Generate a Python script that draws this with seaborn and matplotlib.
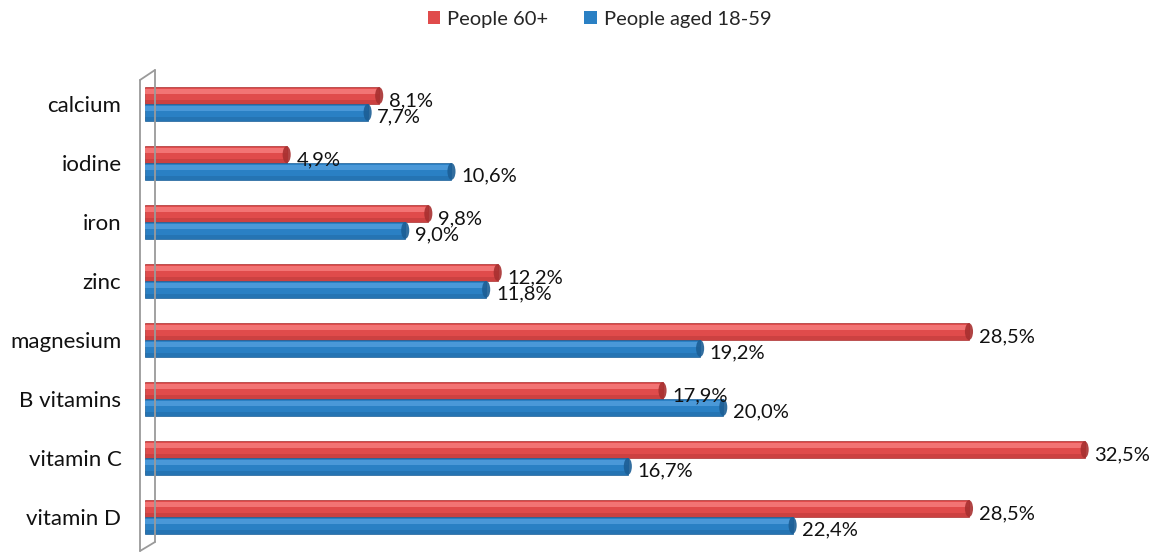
import matplotlib
matplotlib.use("Agg")
import matplotlib.pyplot as plt
import seaborn as sns
import pandas as pd
import numpy as np
from matplotlib.lines import Line2D
from matplotlib.patches import Patch, Ellipse

categories = ["calcium", "iodine", "iron", "zinc", "magnesium", "B vitamins", "vitamin C", "vitamin D"]
series_names = ["People 60+", "People aged 18-59"]
people_60 = [8.1, 4.9, 9.8, 12.2, 28.5, 17.9, 32.5, 28.5]
people_18_59 = [7.7, 10.6, 9.0, 11.8, 19.2, 20.0, 16.7, 22.4]
colors = ["#E04B4B", "#2A80C4"]
highlight = ["#F27474", "#4A98D8"]
edge = ["#A83030", "#1C5E95"]

df = pd.DataFrame({
    "category": categories * 2,
    "value": people_60 + people_18_59,
    "series": [series_names[0]] * len(categories) + [series_names[1]] * len(categories),
})

sns.set_theme(style="white")
plt.rcParams["font.family"] = ["Lato", "DejaVu Sans"]
FS = 14.5

fig = plt.figure(figsize=(11.53, 5.52), dpi=100)
ax = fig.add_axes([145 / 1153, 0.01, (1128 - 145) / 1153, 0.855])

sns.barplot(data=df, y="category", x="value", hue="series", orient="h",
            palette=colors, width=0.57, ax=ax, legend=False, saturation=1,
            edgecolor="none")

# cylinder-like shading: highlight stripe, darker lower band, end cap
for i, cont in enumerate(ax.containers):
    for bar in cont:
        bar.set_edgecolor(edge[i])
        bar.set_linewidth(0.5)
        x0, y0 = bar.get_x(), bar.get_y()
        w, h = bar.get_width(), bar.get_height()
        z = bar.get_zorder()
        ax.add_patch(plt.Rectangle((x0, y0 + h * 0.12), w, h * 0.28,
                                   facecolor=highlight[i], edgecolor="none", zorder=z + 0.1))
        ax.add_patch(plt.Rectangle((x0, y0 + h * 0.75), w, h * 0.25,
                                   facecolor=edge[i], alpha=0.35, edgecolor="none", zorder=z + 0.1))
        ax.add_patch(Ellipse((x0 + w, y0 + h / 2), 0.28, h, facecolor=edge[i],
                             edgecolor="none", alpha=0.9, zorder=z + 0.2))

# value labels
for i, cont in enumerate(ax.containers):
    labels = [f"{v:.1f}".replace(".", ",") + "%" for v in cont.datavalues]
    for bar, lab in zip(cont, labels):
        ax.annotate(lab, (bar.get_x() + bar.get_width(), bar.get_y() + bar.get_height() / 2),
                    xytext=(7, -3.5), textcoords="offset points", ha="left", va="center",
                    fontsize=FS, color="#111111", annotation_clip=False)

ax.set_xlim(0, 34)
ax.set_ylim(len(categories) - 0.5, -0.5)
ax.set_xlabel("")
ax.set_ylabel("")
ax.set_xticks([])
ax.tick_params(axis="y", length=0, pad=17, labelsize=16, labelcolor="#111111")
for s in ax.spines.values():
    s.set_visible(False)

# 3D wall outline
wall = "#9A9A9A"
X = lambda px: px / 1153
Y = lambda py: 1 - py / 552
fig.add_artist(Line2D([X(140), X(140)], [Y(80), Y(551)], color=wall, lw=1.3))
fig.add_artist(Line2D([X(140), X(155)], [Y(80), Y(70)], color=wall, lw=1.3))
fig.add_artist(Line2D([X(155), X(155)], [Y(70), Y(542)], color=wall, lw=1.3))
fig.add_artist(Line2D([X(155), X(140)], [Y(542), Y(551)], color=wall, lw=1.3))

handles = [Patch(facecolor=c, edgecolor="none") for c in colors]
fig.legend(handles, series_names, loc="center", bbox_to_anchor=(0.52, 1 - 19 / 552),
           ncol=2, frameon=False, fontsize=FS, handlelength=0.6, handleheight=0.6,
           handletextpad=0.35, columnspacing=1.8)

fig.savefig("out.png", dpi=100)
